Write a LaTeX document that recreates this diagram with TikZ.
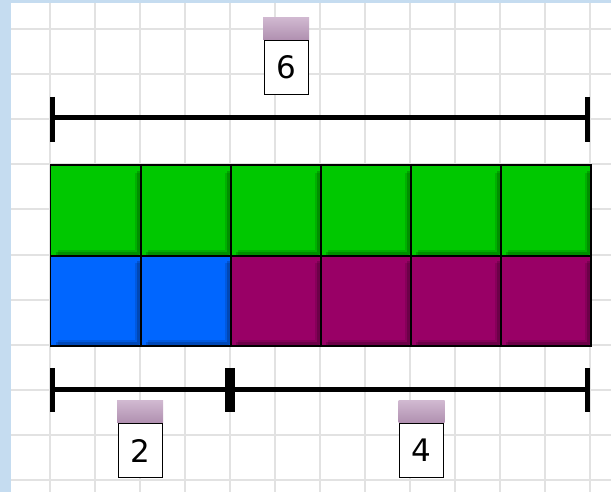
\documentclass[tikz,border=0pt]{standalone}
\usepackage{fontspec}
\setmainfont{DejaVu Sans}
\definecolor{bgblue}{RGB}{197,220,240}
\definecolor{gridc}{RGB}{226,226,226}
\definecolor{cgreen}{RGB}{0,200,0}
\definecolor{cblue}{RGB}{0,102,255}
\definecolor{cpurple}{RGB}{153,0,102}
\definecolor{tabtop}{RGB}{208,184,208}
\definecolor{tabbot}{RGB}{176,144,176}
\tikzset{
  cell/.style={draw=black, line width=1pt, minimum width=90pt, minimum height=90pt, inner sep=0pt, anchor=north west},
  cellshadeA/.style={black, opacity=.12, line width=7pt, line join=round},
  cellshadeB/.style={black, opacity=.18, line width=3pt, line join=round},
  barline/.style={line width=5pt},
  endtick/.style={line width=5pt},
  midtick/.style={line width=10pt},
  lbl/.style={draw=black, line width=1pt, fill=white, minimum width=44pt, minimum height=54pt, inner sep=0pt, font=\fontsize{31}{31}\selectfont},
  tab/.style={top color=tabtop, bottom color=tabbot, minimum width=46pt, minimum height=22pt, inner sep=0pt, anchor=south}
}
\begin{document}
\begin{tikzpicture}[x=1pt,y=-1pt]
\useasboundingbox (0,0) rectangle (611,492);
\fill[bgblue] (0,0) rectangle (611,492);
\fill[white] (11,3) rectangle (611,492);
\begin{scope}
\clip (11,3) rectangle (611,492);
\foreach \x in {5,50,...,635} \draw[gridc, line width=2pt] (\x,3) -- (\x,492);
\foreach \y in {29.5,74.5,...,480} \draw[gridc, line width=2pt] (11,\y) -- (611,\y);
\end{scope}
% cells
\foreach \i in {0,...,5} {
  \node[cell, fill=cgreen] (g\i) at (50+90*\i,165) {};
}
\foreach \i/\c in {0/cblue,1/cblue,2/cpurple,3/cpurple,4/cpurple,5/cpurple} {
  \node[cell, fill=\c] (b\i) at (50+90*\i,255) {};
}
\foreach \n in {g0,g1,g2,g3,g4,g5,b0,b1,b2,b3,b4,b5} {
  \begin{scope}
  \clip (\n.north west) rectangle (\n.south east);
  \draw[cellshadeA] ([shift={(8,-3)}]\n.south west) -- ([shift={(-3,-3)}]\n.south east) -- ([shift={(-3,8)}]\n.north east);
  \draw[cellshadeB] ([shift={(6,-2.5)}]\n.south west) -- ([shift={(-2.5,-2.5)}]\n.south east) -- ([shift={(-2.5,6)}]\n.north east);
  \end{scope}
  \draw[black, line width=1pt] (\n.north west) rectangle (\n.south east);
}
% top bar
\coordinate (tl) at (52,118);
\coordinate (tr) at (587,118);
\draw[barline] (tl) -- (tr);
\draw[endtick] ([shift={(0,-21)}]tl) -- ([shift={(0,24)}]tl);
\draw[endtick] ([shift={(0,-21)}]tr) -- ([shift={(0,24)}]tr);
% bottom bar
\coordinate (bl) at (52,389);
\coordinate (bm) at (230,389);
\coordinate (br) at (587,389);
\draw[barline] (bl) -- (br);
\draw[endtick] ([shift={(0,-21)}]bl) -- ([shift={(0,23)}]bl);
\draw[midtick] ([shift={(0,-21)}]bm) -- ([shift={(0,23)}]bm);
\draw[endtick] ([shift={(0,-21)}]br) -- ([shift={(0,23)}]br);
% labels
\node[lbl] (l6) at (286,67.5) {6};
\node[tab] (t6) at (l6.north) {};
\node[lbl] (l2) at (140,450.5) {2};
\node[tab] (t2) at (l2.north) {};
\node[lbl] (l4) at (421.5,450.5) {4};
\node[tab] (t4) at (l4.north) {};
\end{tikzpicture}
\end{document}
